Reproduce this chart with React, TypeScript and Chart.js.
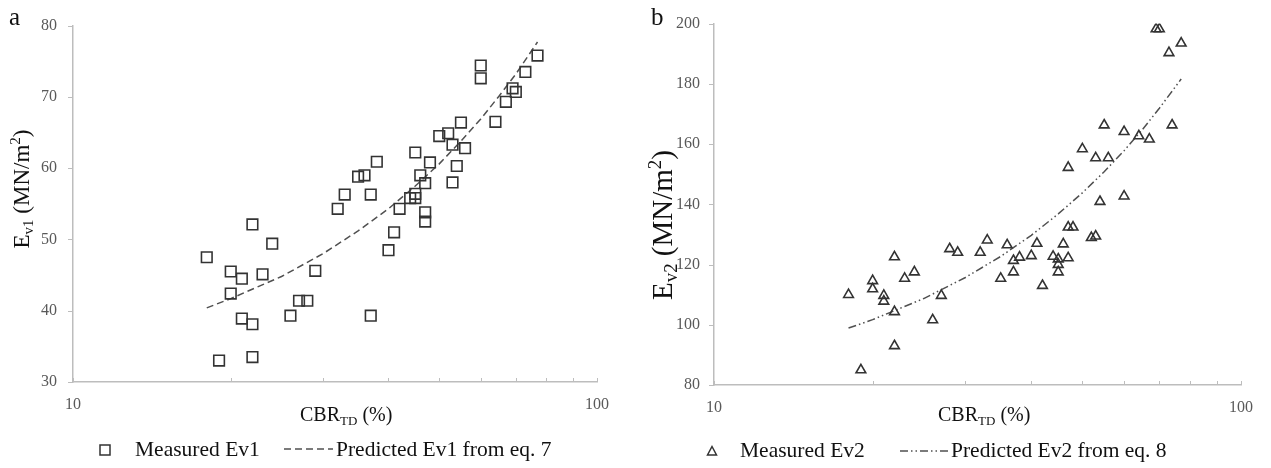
import React, { useEffect, useRef } from 'react';
import { Chart, registerables } from 'chart.js';
Chart.register(...registerables);

// ---------- data ----------
const ev1Cbr = [18, 19, 20, 20, 21, 21, 22, 22, 22, 23, 24, 26, 27, 28, 29, 32, 33, 35, 36, 37, 37, 38, 40, 41, 42, 44, 45, 45, 45, 46, 47, 47, 47, 48, 50, 52, 53, 53, 54, 55, 56, 60, 60, 64, 67, 69, 70, 73, 77];
const ev1Measured = [47.5, 33, 45.5, 42.4, 44.5, 38.9, 52.1, 38.1, 33.5, 45.1, 49.4, 39.3, 41.4, 41.4, 45.6, 54.3, 56.3, 58.8, 59, 56.3, 39.3, 60.9, 48.5, 51, 54.3, 55.8, 55.8, 56.4, 62.2, 59, 57.9, 53.8, 52.5, 60.8, 64.5, 64.9, 63.3, 58, 60.3, 66.4, 62.8, 74.4, 72.6, 66.5, 69.3, 71.2, 70.7, 73.5, 75.8];

const ev2Cbr = [18, 19, 20, 20, 21, 21, 22, 22, 22, 23, 24, 26, 27, 28, 29, 32, 33, 35, 36, 37, 37, 38, 40, 41, 42, 44, 45, 45, 45, 46, 47, 47, 47, 48, 50, 52, 53, 53, 54, 55, 56, 60, 60, 64, 67, 69, 70, 73, 74, 77];
const ev2Measured = [110, 85, 114.6, 111.9, 109.7, 107.8, 122.5, 104.3, 93, 115.4, 117.5, 101.6, 109.7, 125.2, 124, 124, 128.1, 115.4, 126.5, 117.5, 121.3, 122.4, 122.9, 127, 113, 122.7, 121.8, 120, 117.5, 126.8, 152.2, 122.2, 132.4, 132.4, 158.4, 128.9, 129.4, 155.4, 140.9, 166.3, 155.4, 142.7, 164.1, 162.7, 161.6, 198.2, 198.2, 190.3, 166.3, 193.5];

const predCbr = [18, 20, 25, 30, 35, 40, 45, 50, 55, 60, 65, 70, 77];
const ev1Predicted = [40.4, 41.7, 44.8, 48.0, 51.2, 54.3, 57.5, 60.6, 63.8, 66.9, 70.1, 73.2, 77.7];
const ev2Predicted = [98.9, 101.7, 108.7, 115.7, 122.7, 129.7, 136.8, 143.8, 150.8, 157.8, 164.8, 171.9, 181.6];

const xTickValues = [10, 20, 30, 40, 50, 60, 70, 80, 90, 100];
const xTickLabels = [10, 100];
const ev1Range = [30, 80, 10];
const ev2Range = [80, 200, 20];

// ---------- styles ----------
const SERIF = "'Liberation Serif', 'Times New Roman', serif";
const AXIS = '#bdbdbd';
const TICK_TEXT = '#595959';
const MARK = '#333333';
const LINE = '#505050';

const tickMarks = {
  id: 'tickMarks',
  afterDraw(chart: any) {
    const { ctx, chartArea, scales } = chart;
    const x = scales.x;
    const y = scales.y;
    ctx.save();
    ctx.strokeStyle = AXIS;
    ctx.lineWidth = 1;
    x.ticks.forEach((t: any) => {
      const px = Math.round(x.getPixelForValue(t.value)) + 0.5;
      ctx.beginPath();
      ctx.moveTo(px, chartArea.bottom);
      ctx.lineTo(px, chartArea.bottom - 4);
      ctx.stroke();
    });
    y.ticks.forEach((t: any) => {
      const py = Math.round(y.getPixelForValue(t.value)) + 0.5;
      ctx.beginPath();
      ctx.moveTo(chartArea.left, py);
      ctx.lineTo(chartArea.left - 5, py);
      ctx.stroke();
    });
    ctx.restore();
  },
};

type PanelCfg = {
  cbr: number[];
  measured: number[];
  predicted: number[];
  range: number[];
  pointStyle: string;
  radius: number;
  dash: number[];
  width: number;
  yWidth: number;
  padRight: number;
  padTop: number;
  bottom: number;
  tickFont: number;
  yPad: number;
};

function PanelChart({ cfg, left }: { cfg: PanelCfg; left: number }) {
  const ref = useRef<HTMLCanvasElement | null>(null);
  useEffect(() => {
    if (!ref.current) return;
    const H = 468;
    const chart = new Chart(ref.current, {
      type: 'scatter',
      data: {
        datasets: [
          {
            label: 'Measured',
            data: cfg.cbr.map((c, i) => ({ x: c, y: cfg.measured[i] })),
            pointStyle: cfg.pointStyle as any,
            pointRadius: cfg.radius,
            pointBorderColor: MARK,
            pointBackgroundColor: 'rgba(0,0,0,0)',
            pointBorderWidth: 1.6,
            showLine: false,
          },
          {
            label: 'Predicted',
            data: predCbr.map((c, i) => ({ x: c, y: cfg.predicted[i] })),
            showLine: true,
            pointRadius: 0,
            borderColor: LINE,
            borderWidth: 1.5,
            borderDash: cfg.dash,
            tension: 0,
          },
        ],
      },
      options: {
        animation: false,
        responsive: false,
        events: [],
        layout: { padding: { left: 0, right: cfg.padRight, top: cfg.padTop, bottom: 0 } },
        plugins: { legend: { display: false }, tooltip: { enabled: false } },
        scales: {
          x: {
            type: 'logarithmic',
            min: 10,
            max: 100,
            afterBuildTicks: (s: any) => {
              s.ticks = xTickValues.map((v) => ({ value: v }));
            },
            afterFit: (s: any) => {
              s.height = H - cfg.bottom;
            },
            grid: { display: false, drawTicks: false },
            border: { display: true, color: AXIS, width: 1.5 },
            ticks: {
              autoSkip: false,
              maxRotation: 0,
              padding: 13,
              color: TICK_TEXT,
              font: { family: SERIF, size: cfg.tickFont },
              callback: (v: any) => (xTickLabels.includes(Number(v)) ? String(v) : ''),
            },
          },
          y: {
            type: 'linear',
            min: cfg.range[0],
            max: cfg.range[1],
            afterFit: (s: any) => {
              s.width = cfg.yWidth;
            },
            grid: { display: false, drawTicks: false },
            border: { display: true, color: AXIS, width: 1.5 },
            ticks: {
              stepSize: cfg.range[2],
              padding: cfg.yPad,
              color: TICK_TEXT,
              font: { family: SERIF, size: cfg.tickFont },
            },
          },
        },
      },
      plugins: [tickMarks],
    } as any);
    return () => chart.destroy();
  }, []);
  return (
    <canvas
      ref={ref}
      width={cfg.width}
      height={468}
      style={{ position: 'absolute', left, top: 0, width: cfg.width, height: 468 }}
    />
  );
}

const subStyle: React.CSSProperties = { fontSize: '0.65em', verticalAlign: '-0.28em', lineHeight: 0 };
const supStyle: React.CSSProperties = { fontSize: '0.65em', verticalAlign: '0.55em', lineHeight: 0 };

function Txt({ left, top, size, children }: any) {
  return (
    <div style={{ position: 'absolute', left, top, fontSize: size, lineHeight: 1, whiteSpace: 'nowrap', fontFamily: SERIF, color: '#111' }}>
      {children}
    </div>
  );
}

function YTitle({ cx, cy, size, sub }: any) {
  return (
    <div
      style={{
        position: 'absolute',
        left: cx,
        top: cy,
        transform: 'translate(-50%, -50%) rotate(-90deg)',
        fontSize: size,
        lineHeight: 1,
        whiteSpace: 'nowrap',
        fontFamily: SERIF,
        color: '#111',
      }}
    >
      E<span style={subStyle}>{sub}</span> (MN/m<span style={supStyle}>2</span>)
    </div>
  );
}

function XTitle({ left, top, size }: any) {
  return (
    <Txt left={left} top={top} size={size}>
      CBR<span style={subStyle}>TD</span> (%)
    </Txt>
  );
}

const leftCfg: PanelCfg = {
  cbr: ev1Cbr,
  measured: ev1Measured,
  predicted: ev1Predicted,
  range: ev1Range,
  pointStyle: 'rect',
  radius: 7.5,
  dash: [7, 4],
  width: 640,
  yWidth: 73,
  padRight: 640 - 597,
  padTop: 16,
  bottom: 382,
  tickFont: 16,
  yPad: 16,
};

const rightCfg: PanelCfg = {
  cbr: ev2Cbr,
  measured: ev2Measured,
  predicted: ev2Predicted,
  range: ev2Range,
  pointStyle: 'triangle',
  radius: 5.6,
  dash: [8, 3, 1.5, 3, 1.5, 3],
  width: 631,
  yWidth: 74,
  padRight: 631 - 601,
  padTop: 15,
  bottom: 385,
  tickFont: 16,
  yPad: 14,
};

export default function App() {
  return (
    <div style={{ position: 'absolute', left: 0, top: 0, width: 1271, height: 468, background: '#fff', overflow: 'hidden' }}>
      <PanelChart cfg={leftCfg} left={0} />
      <PanelChart cfg={rightCfg} left={640} />

      <Txt left={9} top={4} size={25}>a</Txt>
      <Txt left={651} top={4} size={25}>b</Txt>

      <YTitle cx={21} cy={189} size={23} sub="v1" />
      <YTitle cx={662} cy={225} size={29} sub="v2" />

      <XTitle left={300} top={404} size={20} />
      <XTitle left={938} top={404} size={20} />

      {/* legends */}
      <svg style={{ position: 'absolute', left: 0, top: 0 }} width={1271} height={468}>
        <rect x={100} y={445} width={10} height={10} fill="none" stroke={MARK} strokeWidth={1.5} />
        <line x1={284} y1={449} x2={333} y2={449} stroke={LINE} strokeWidth={1.5} strokeDasharray="7 4" />
        <polygon points="712,446.5 716.5,455 707.5,455" fill="none" stroke={MARK} strokeWidth={1.5} />
        <line x1={900} y1={451} x2={948} y2={451} stroke={LINE} strokeWidth={1.5} strokeDasharray="8 3 1.5 3 1.5 3" />
      </svg>
      <Txt left={135} top={439} size={21.5}>Measured Ev1</Txt>
      <Txt left={336} top={439} size={21.5}>Predicted Ev1 from eq. 7</Txt>
      <Txt left={740} top={440} size={21.5}>Measured Ev2</Txt>
      <Txt left={951} top={440} size={21.5}>Predicted Ev2 from eq. 8</Txt>
    </div>
  );
}
